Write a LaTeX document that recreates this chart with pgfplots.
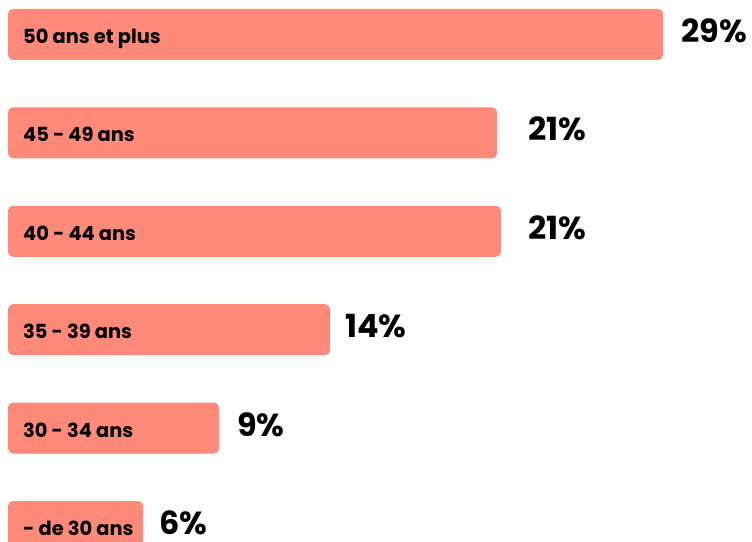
\documentclass[border=0pt]{standalone}
\usepackage{fontspec}
\setmainfont{Poppins}
\usepackage{pgfplots}
\pgfplotsset{compat=1.18}
\definecolor{barsalmon}{RGB}{255,138,122}
\begin{document}
\begin{tikzpicture}
\begin{axis}[
  at={(8bp,0bp)}, anchor=south west,
  scale only axis, width=744bp, height=542bp,
  xmin=0, xmax=32.93, ymin=-0.1575, ymax=5.3506,
  hide axis, clip=false,
  /pgf/number format/assume math mode=true,
]
\addplot[xbar, bar width=51bp, fill=barsalmon, draw=none, rounded corners=5bp]
  coordinates {(29.0,5) (21.65,4) (21.82,3) (14.25,2) (9.34,1) (5.98,0)};
\addplot[draw=none, mark=none, nodes near coords, point meta=explicit symbolic,
  nodes near coords style={anchor=base west, xshift=15bp, yshift=-9bp, font=\fontsize{19.5}{22}\selectfont\bfseries, text=black, inner sep=0pt}]
  table[meta=l] {
  x y l
  0 5 {50 ans et plus}
  0 4 {45 - 49 ans}
  0 3 {40 - 44 ans}
  0 2 {35 - 39 ans}
  0 1 {30 - 34 ans}
  0 0 {- de 30 ans}
  };
\addplot[draw=none, mark=none, nodes near coords, point meta=explicit symbolic,
  nodes near coords style={anchor=base west, yshift=-8bp, font=\fontsize{32}{34}\selectfont\bfseries, text=black, inner sep=0pt}]
  table[meta=l] {
  x y l
  29.79 5 29\%
  23.02 4 21\%
  23.02 3 21\%
  14.92 2 14\%
  10.14 1 9\%
  6.68 0 6\%
  };
\end{axis}
\pgfresetboundingbox
\useasboundingbox (0,0) rectangle (752bp,542bp);
\end{tikzpicture}
\end{document}
